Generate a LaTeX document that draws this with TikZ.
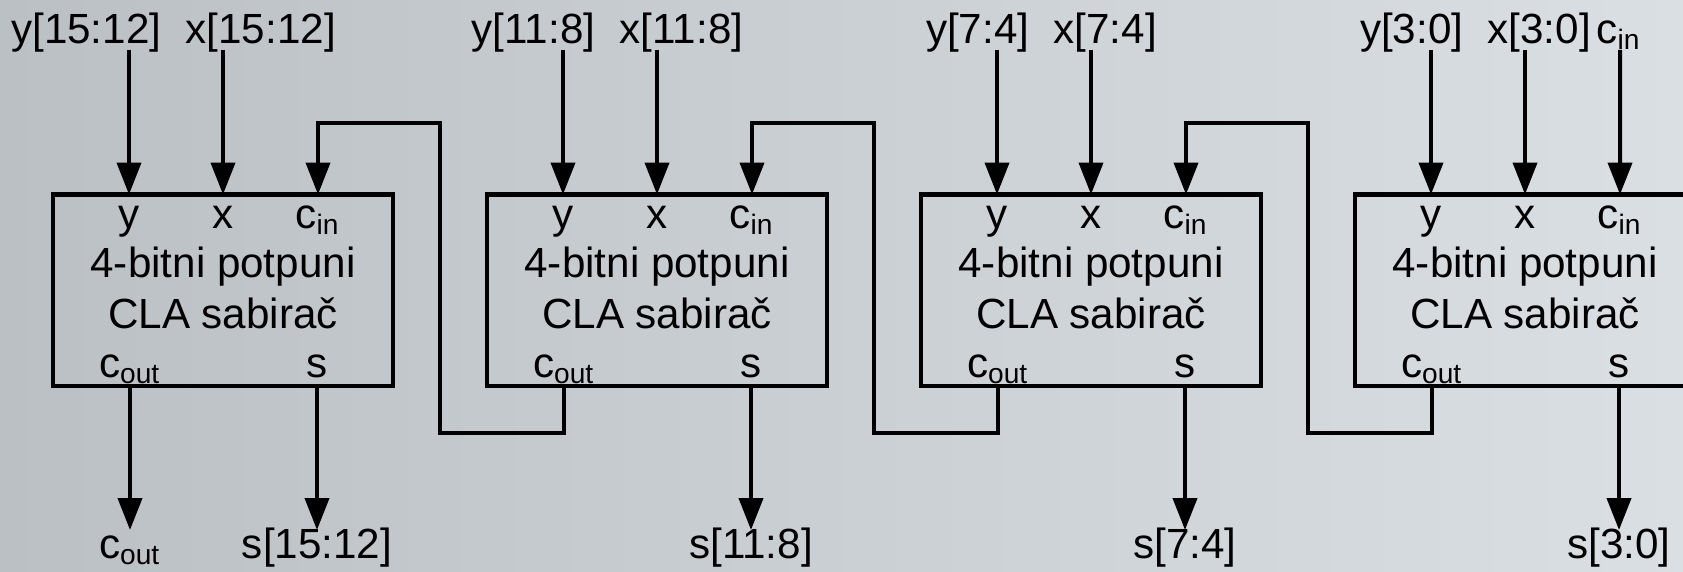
\documentclass[tikz,border=0pt]{standalone}
\usepackage{fontspec}
\setmainfont{Liberation Sans}
\usetikzlibrary{arrows.meta,positioning,calc}
\definecolor{cBgL}{HTML}{BBC0C4}
\definecolor{cBgR}{HTML}{DADFE3}
\definecolor{cInk}{HTML}{000000}
\newcommand{\cIn}{c\textsubscript{in}}
\newcommand{\cOut}{c\textsubscript{out}}
\tikzset{
  >={Triangle[length=3.2mm,width=2.4mm]},
  blk/.style ={draw=cInk,line width=1.25pt,minimum width=3.4cm,
               minimum height=1.915cm,inner sep=0pt},
  ar/.style  ={->,line width=1.15pt,cInk},
  lbl/.style ={font=\fontsize{12}{14}\selectfont,inner sep=0pt,anchor=base,text=cInk},
}

\begin{document}
\begin{tikzpicture}
\useasboundingbox (0,0) rectangle (16.83,5.71);
\clip (0,0) rectangle (16.83,5.71);
\fill[left color=cBgL,right color=cBgR] (0,0) rectangle (16.83,5.71);
% four 4-bit adders, most significant on the left
\foreach \k/\hi/\lo in {0/15/12,1/11/8,2/7/4,3/3/0}{
  \pgfmathsetmacro\bx{0.53+4.34*\k}
  \node[blk] (blk\k) at (\bx+1.70,2.8075) {};
  \coordinate (y\k)  at (\bx+0.76,3.765);
  \coordinate (x\k)  at (\bx+1.70,3.765);
  \coordinate (ci\k) at (\bx+2.65,3.765);
  \coordinate (co\k) at (\bx+0.77,1.85);
  \coordinate (s\k)  at (\bx+2.64,1.85);
  \node[lbl] (ly\k) at (\bx+0.76,3.43) {y};
  \node[lbl] (lx\k) at (\bx+1.70,3.43) {x};
  \node[lbl] (lc\k) at (\bx+2.65,3.43) {\cIn};
  \node[lbl] (ta\k) at (\bx+1.70,2.94) {4-bitni potpuni};
  \node[lbl] (tb\k) at (\bx+1.70,2.43) {CLA sabirač};
  \node[lbl] (lo\k) at (\bx+0.77,1.94) {\cOut};
  \node[lbl] (ls\k) at (\bx+2.64,1.94) {s};
  % operand inputs
  \coordinate (iy\k) at (\bx+0.76,5.21);
  \coordinate (ix\k) at (\bx+1.70,5.21);
  \node[lbl,anchor=base east] (ny\k) at (\bx+1.09,5.28) {y[\hi:\lo]};
  \node[lbl,anchor=base west] (nx\k) at (\bx+1.32,5.28) {x[\hi:\lo]};
  \draw[ar] (iy\k) -- (y\k);
  \draw[ar] (ix\k) -- (x\k);
  % sum outputs
  \coordinate (os\k) at (\bx+2.64,0.41);
  \node[lbl] (ns\k) at (\bx+2.64,0.13) {s[\hi:\lo]};
  \draw[ar] (s\k) -- (os\k);
}
% carry chain
\foreach \k/\j in {1/0,2/1,3/2}{
  \coordinate (fb\k) at (4.40+4.34*\j,1.38);
  \coordinate (ft\k) at (4.40+4.34*\j,4.48);
  \draw[ar] (co\k) |- (fb\k) -- (ft\k) -| (ci\j);
}
\coordinate (icin) at (16.20,5.21);
\node[lbl] (ncin) at (16.19,5.28) {\cIn};
\draw[ar] (icin) -- (ci3);
\coordinate (ocout) at (1.30,0.41);
\node[lbl] (ncout) at (1.30,0.13) {\cOut};
\draw[ar] (co0) -- (ocout);
\end{tikzpicture}
\end{document}
